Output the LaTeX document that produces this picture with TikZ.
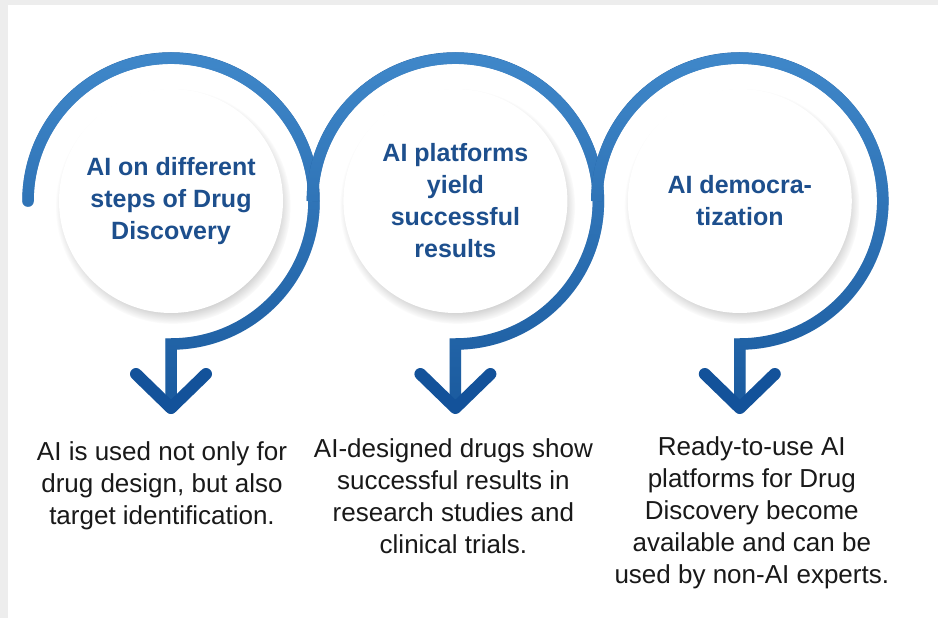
\documentclass[tikz,border=0pt]{standalone}
\usepackage{fontspec}
\setmainfont{Liberation Sans}
\usetikzlibrary{positioning,shadows,fadings}

\definecolor{ribbontop}{HTML}{4088CA}
\definecolor{ribbonbot}{HTML}{1A5A9E}
\definecolor{arrowblue}{HTML}{13529A}
\definecolor{titleblue}{HTML}{1D4F8D}
\definecolor{framegray}{HTML}{EDEDED}

\tikzfading[name=ribbon fade, top color=transparent!0, bottom color=transparent!100]

\begin{document}
\begin{tikzpicture}[x=1pt,y=1pt,node distance=60pt,
    stage circle/.style={circle,fill=white,minimum size=224pt,inner sep=0pt,align=center,text=titleblue,font=\fontsize{25}{32}\selectfont\bfseries,
      circular drop shadow={shadow xshift=2pt,shadow yshift=-5pt,shadow scale=1.05,opacity=0.5}},
    ribbon/.style={line width=11.5pt,line cap=round,miter limit=10},
    joined/.style={line cap=butt},
    chevron/.style={draw=arrowblue,line width=12pt,line cap=round,line join=round},
    desc/.style={align=center,inner sep=0pt,text=black!90,font=\fontsize{26}{32}\selectfont}]

    % card
    \fill[framegray] (0,0) rectangle (938,-618);
    \fill[white] (8,-5) rectangle (938,-618);
    \useasboundingbox (0,0) rectangle (938,-618);

    % circles
    \node[stage circle] (c1) at (171,-201) {AI on different\\steps of Drug\\Discovery};
    \node[stage circle] (c2) [right=of c1] {AI platforms\\yield\\successful\\results};
    \node[stage circle] (c3) [right=of c2] {AI democra-\\tization};

    % ribbons, dark first, then the light top faded in
    \draw[ribbon,ribbonbot] (c1.center) ++(-143,0) arc[start angle=180,end angle=-90,radius=143] -- ++(0,-64) coordinate (tip1);
    \draw[ribbon,ribbontop,path fading=ribbon fade] (c1.center) ++(-143,0) arc[start angle=180,end angle=-90,radius=143] -- ++(0,-64);
    \draw[ribbon,joined,ribbonbot] (c2.center) ++(-143,0) arc[start angle=180,end angle=-90,radius=143] -- ++(0,-64) coordinate (tip2);
    \draw[ribbon,joined,ribbontop,path fading=ribbon fade] (c2.center) ++(-143,0) arc[start angle=180,end angle=-90,radius=143] -- ++(0,-64);
    \draw[ribbon,joined,ribbonbot] (c3.center) ++(-143,0) arc[start angle=180,end angle=-90,radius=143] -- ++(0,-64) coordinate (tip3);
    \draw[ribbon,joined,ribbontop,path fading=ribbon fade] (c3.center) ++(-143,0) arc[start angle=180,end angle=-90,radius=143] -- ++(0,-64);

    % arrow heads
    \draw[chevron] ([shift={(-35,34)}]tip1) -- (tip1) -- ([shift={(35,34)}]tip1);
    \draw[chevron] ([shift={(-35,34)}]tip2) -- (tip2) -- ([shift={(35,34)}]tip2);
    \draw[chevron] ([shift={(-35,34)}]tip3) -- (tip3) -- ([shift={(35,34)}]tip3);

    % descriptions
    \node[desc,below=33pt of tip1,xshift=-9pt] (d1) {AI is used not only for\\drug design, but also\\target identification.};
    \node[desc,below=30pt of tip2,xshift=-2pt] (d2) {AI-designed drugs show\\successful results in\\research studies and\\clinical trials.};
    \node[desc,below=28pt of tip3,xshift=12pt] (d3) {Ready-to-use AI\\platforms for Drug\\Discovery become\\available and can be\\used by non-AI experts.};
\end{tikzpicture}
\end{document}
